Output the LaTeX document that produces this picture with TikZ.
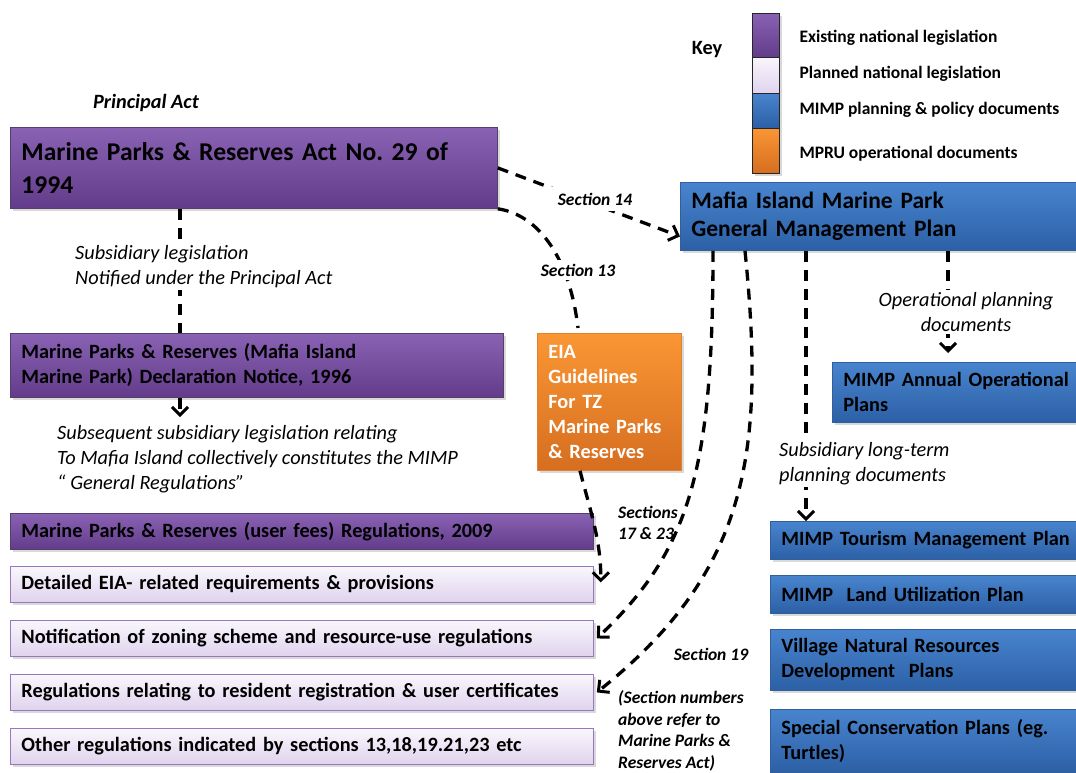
\documentclass[tikz,border=0pt]{standalone}
\usepackage{fontspec}
\setmainfont{Carlito}
\usetikzlibrary{arrows.meta,shadows}
\frenchspacing

\definecolor{purpTop}{RGB}{138,98,180}
\definecolor{purpBot}{RGB}{98,60,138}
\definecolor{purpEdge}{RGB}{85,62,110}
\definecolor{lavTop}{RGB}{249,246,252}
\definecolor{lavBot}{RGB}{224,211,238}
\definecolor{lavEdge}{RGB}{150,120,190}
\definecolor{blueTop}{RGB}{72,132,206}
\definecolor{blueBot}{RGB}{44,96,166}
\definecolor{blueEdge}{RGB}{50,95,155}
\definecolor{orTop}{RGB}{250,150,52}
\definecolor{orBot}{RGB}{214,110,32}
\definecolor{orEdge}{RGB}{228,128,48}

\newcommand\bigfont{\fontsize{25.6}{33}\selectfont}
\newcommand\midfont{\fontsize{23.5}{28}\selectfont}
\newcommand\boxfont{\fontsize{20.3}{25}\selectfont}
\newcommand\notefont{\fontsize{17.5}{21.5}\selectfont}

\tikzset{
  existing/.style={top color=purpTop, bottom color=purpBot, draw=purpEdge},
  planned/.style={top color=lavTop, bottom color=lavBot, draw=lavEdge},
  mimp/.style={top color=blueTop, bottom color=blueBot, draw=blueEdge},
  mpru/.style={top color=orTop, bottom color=orBot, draw=orEdge},
  boxshadow/.style={drop shadow={shadow xshift=2.5pt, shadow yshift=-3pt, opacity=0.3}},
  legbox/.style={anchor=north west, inner xsep=11pt, inner ysep=2pt, align=left,
    font=\boxfont\bfseries, line width=0.8pt, boxshadow},
  link/.style={line width=3.3pt, dash pattern=on 11pt off 8pt},
  arrowed/.style={-{Straight Barb[length=8pt,width=16pt,line width=3pt]}},
  note/.style={font=\boxfont\itshape, align=left, inner sep=2pt},
  secnote/.style={font=\notefont\bfseries\itshape, align=left, inner sep=1pt},
}

\begin{document}
\begin{tikzpicture}[x=1pt, y=-1pt]
    \useasboundingbox (0,0) rectangle (1076,772);

    % key
    \node[font=\boxfont\bfseries] (key) at (707,50) {Key};
    \foreach \sty/\ya/\yb/\yt/\txt in {existing/13/57/38/Existing national legislation,
        planned/57/93/74/Planned national legislation,
        mimp/93/128/110/MIMP planning \& policy documents,
        mpru/128/173/154/MPRU operational documents} {
        \draw[\sty, draw=black!85, line width=0.8pt, boxshadow] (752,\ya) rectangle (779,\yb);
        \node[anchor=west, font=\notefont\bfseries] (key-\sty) at (796,\yt) {\txt};
    }

    % principal act and management plan
    \node[font=\boxfont\bfseries\itshape] (principal) at (146,103) {Principal Act};
    \node[legbox, existing, font=\bigfont\bfseries, text width=465pt, minimum height=81pt]
        (act) at (10,127) {Marine Parks \& Reserves Act No. 29 of\\1994};
    \node[legbox, mimp, font=\midfont\bfseries, text width=378pt, minimum height=68pt]
        (gmp) at (680,182) {Mafia Island Marine Park\\General Management Plan};

    \node[legbox, existing, text width=471pt, minimum height=64pt]
        (decl) at (10,333) {Marine Parks \& Reserves (Mafia Island\\Marine Park) Declaration Notice, 1996};
    \node[legbox, mpru, text=white, text width=122pt, minimum height=137pt]
        (eia) at (537,333) {EIA\\Guidelines\\For TZ\\Marine Parks\\\& Reserves};
    \node[legbox, mimp, text width=234pt, minimum height=60pt]
        (annual) at (832,362) {MIMP Annual Operational\\Plans};

    % regulations column
    \foreach \nm/\sty/\yy/\txt in {fees/existing/513/{Marine Parks \& Reserves (user fees) Regulations, 2009},
        detail/planned/566/{Detailed EIA- related requirements \& provisions},
        notif/planned/620/{Notification of zoning scheme and resource-use regulations},
        regs/planned/674/{Regulations relating to resident registration \& user certificates},
        other/planned/728/{Other regulations indicated by sections 13,18,19.21,23 etc}} {
        \node[legbox, \sty, text width=561pt, minimum height=36pt] (\nm) at (10,\yy) {\txt};
    }

    % planning documents column
    \foreach \nm/\yy/\hh/\txt in {tourism/521/38pt/{MIMP Tourism Management Plan},
        land/575/38pt/{MIMP~~Land Utilization Plan},
        village/629/61pt/{Village Natural Resources\\Development~~Plans},
        special/709/63pt/{Special Conservation Plans (eg.\\Turtles)}} {
        \node[legbox, mimp, text width=298pt, minimum height=\hh] (\nm) at (770,\yy) {\txt};
    }

    % subsidiary legislation
    \draw[link] ([xshift=170pt]act.south west) -- ([xshift=170pt]decl.north west);
    \node[note, fill=white, anchor=west] (subsid) at (73,267)
        {Subsidiary legislation\\Notified under the Principal Act};
    \node[note, anchor=west] (genreg) at (55,459)
        {Subsequent subsidiary legislation relating\\To Mafia Island collectively constitutes the MIMP\\“ General Regulations”};
    \draw[link, arrowed] ([xshift=170pt]decl.south west) -- ([xshift=125pt, yshift=6pt]genreg.north west);

    % sections of the act
    \draw[link, arrowed] (act.east) -- ([yshift=-20pt]gmp.west);
    \node[secnote, fill=white, inner xsep=12pt, inner ysep=6pt] (sec14) at (595,199) {Section 14};
    \draw[link] (act.south east) .. controls (540,215) and (570,260) .. ([xshift=41pt, yshift=5pt]eia.north west);
    \node[secnote, fill=white, inner ysep=4pt] (sec13) at (578,270) {Section 13};
    \draw[link, arrowed] ([xshift=43pt]eia.south west) .. controls (590,510) and (601,540) .. ([xshift=7pt, yshift=2pt]detail.east);
    \node[secnote, anchor=west] (sec1723) at (617,523) {Sections\\17 \& 23};
    \draw[link, arrowed] ([xshift=33pt]gmp.south west) .. controls (713,470) and (690,550) .. ([xshift=3pt]notif.east);
    \draw[link, arrowed] ([xshift=65pt]gmp.south west) .. controls (765,450) and (750,570) .. ([xshift=3pt]regs.east);
    \node[secnote] (sec19) at (711,654) {Section 19};
    \node[secnote, anchor=west] (secref) at (617,731)
        {(Section numbers\\above refer to\\Marine Parks \&\\Reserves Act)};

    % planning documents
    \draw[link, arrowed] ([xshift=126pt]gmp.south west) -- ([xshift=36pt]tourism.north west);
    \node[note, fill=white, anchor=west] (longterm) at (777,464)
        {Subsidiary long-term\\planning documents};
    \draw[link, arrowed, shorten >=9pt] ([xshift=268pt]gmp.south west) -- ([xshift=116pt]annual.north west);
    \node[note, fill=white, align=center] (opplan) at (966,312)
        {Operational planning\\documents};
\end{tikzpicture}
\end{document}
